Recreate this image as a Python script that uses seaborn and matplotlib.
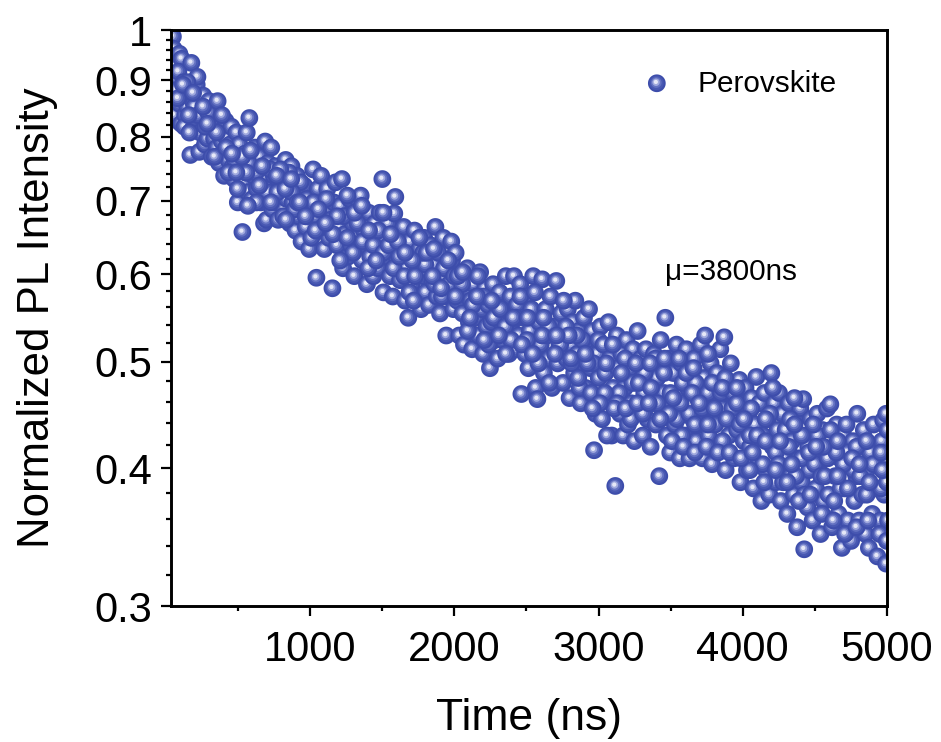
import numpy as np
import pandas as pd
import matplotlib
matplotlib.use("Agg")
import matplotlib.pyplot as plt
import seaborn as sns
from matplotlib.legend_handler import HandlerTuple
from matplotlib.lines import Line2D
from matplotlib.markers import MarkerStyle
from matplotlib.path import Path
from matplotlib.ticker import FixedLocator, FixedFormatter, NullFormatter

# values, in 1000 ns blocks
time_a = [40,45,50,55,60,70,75,85,90,100,
          42,48,58,68,78,88,98,108,115,125,
          120,130,140,150,161,168,175,185,195,205,
          210,223,230,240,250,262,270,280,290,300,
          310,318,325,335,345,352,360,370,380,390,
          395,405,412,425,435,445,455,465,472,480,
          490,500,510,522,530,540,552,560,570,580,
          590,600,610,622,632,640,650,660,672,680,
          690,700,710,722,730,740,752,760,770,780,
          790,800,812,822,830,842,850,862,870,880,
          890,900,910,920,932,940,950,962,970,985,
          75,140,190,265,330,410,470,545,615,695,
          110,155,215,285,345,425,490,565,640,715,
          765,805,845,885,925,965,785,825,865,905]
pl_a = [.99,.965,.93,.90,.87,.85,.83,.955,.89,.945,
        .88,.84,.91,.885,.92,.86,.825,.87,.90,.84,
        .82,.875,.855,.89,.773,.937,.815,.86,.835,.895,
        .91,.778,.81,.845,.875,.79,.83,.80,.865,.85,
        .77,.82,.80,.84,.785,.835,.76,.81,.795,.775,
        .74,.83,.80,.765,.79,.82,.755,.735,.78,.81,
        .70,.79,.76,.658,.73,.775,.81,.715,.835,.75,
        .705,.74,.785,.72,.755,.77,.70,.735,.67,.795,
        .675,.76,.72,.785,.69,.74,.755,.70,.675,.73,
        .72,.745,.69,.765,.705,.73,.67,.755,.70,.72,
        .66,.74,.68,.71,.645,.695,.725,.665,.705,.635,
        .87,.90,.855,.82,.77,.785,.765,.745,.745,.715,
        .895,.81,.84,.845,.81,.745,.72,.76,.725,.75,
        .715,.68,.745,.69,.73,.68,.75,.675,.715,.70]

time_b = [1000,1012,1025,1035,1045,1055,1068,1078,1090,1100,
          1110,1122,1135,1146,1155,1168,1178,1190,1200,1212,
          1220,1232,1242,1255,1265,1275,1288,1298,1310,1320,
          1330,1342,1352,1365,1375,1385,1398,1408,1420,1430,
          1440,1452,1462,1475,1492,1500,1510,1522,1532,1545,
          1555,1565,1575,1582,1595,1605,1615,1628,1640,1650,
          1660,1672,1682,1695,1705,1715,1728,1738,1750,1760,
          1770,1782,1792,1805,1815,1825,1838,1848,1860,1870,
          1880,1892,1902,1915,1925,1935,1948,1958,1970,1985,
          1015,1080,1150,1225,1290,1355,1430,1500,1570,1645,
          1030,1105,1180,1250,1320,1395,1465,1535,1610,1680,
          1720,1790,1855,1920,1990,1710,1775,1840,1905,1975]
pl_b = [.65,.75,.68,.598,.72,.66,.74,.70,.635,.69,
        .72,.65,.675,.585,.70,.73,.64,.665,.695,.735,
        .61,.655,.68,.625,.705,.64,.67,.60,.65,.705,
        .68,.71,.62,.66,.64,.59,.685,.625,.655,.60,
        .67,.64,.61,.685,.735,.58,.65,.625,.67,.60,
        .64,.575,.684,.708,.62,.655,.595,.63,.665,.57,
        .61,.55,.645,.59,.625,.66,.575,.61,.635,.56,
        .60,.65,.58,.62,.565,.64,.595,.615,.665,.575,
        .63,.555,.60,.65,.575,.53,.615,.59,.645,.56,
        .70,.665,.655,.68,.63,.645,.64,.63,.61,.60,
        .66,.705,.68,.65,.67,.61,.66,.64,.625,.58,
        .60,.615,.59,.61,.60,.57,.63,.60,.575,.62]

time_c = [2000,2012,2025,2035,2048,2058,2070,2082,2092,2105,
          2115,2125,2138,2148,2160,2170,2182,2192,2205,2215,
          2225,2238,2248,2260,2270,2282,2292,2305,2315,2325,
          2338,2348,2360,2370,2382,2392,2405,2415,2425,2438,
          2448,2456,2470,2482,2492,2505,2515,2525,2538,2548,
          2556,2567,2580,2590,2601,2612,2625,2635,2648,2658,
          2668,2682,2698,2708,2720,2732,2745,2755,2768,2778,
          2790,2800,2812,2822,2830,2845,2855,2868,2878,2890,
          2900,2912,2925,2935,2948,2960,2970,2982,2992,3005,
          2045,2120,2195,2265,2345,2420,2495,2575,2645,2725,
          2085,2155,2230,2310,2385,2460,2535,2610,2690,2765,
          2805,2880,2955,2015,2840,2915,2990,2785,2860,2940]
pl_c = [.63,.57,.53,.60,.555,.52,.585,.61,.545,.57,
        .515,.59,.55,.575,.53,.605,.56,.51,.585,.54,
        .565,.495,.545,.59,.525,.565,.505,.58,.545,.525,
        .56,.60,.53,.51,.575,.545,.60,.515,.565,.53,
        .59,.469,.55,.51,.575,.495,.535,.56,.60,.51,
        .475,.464,.545,.52,.596,.49,.56,.53,.505,.575,
        .475,.54,.594,.50,.52,.555,.48,.53,.505,.56,
        .465,.52,.545,.49,.57,.51,.535,.46,.50,.55,
        .475,.525,.56,.495,.535,.417,.45,.51,.485,.54,
        .59,.565,.575,.55,.54,.55,.525,.50,.54,.52,
        .535,.60,.52,.56,.525,.52,.51,.55,.51,.54,
        .50,.525,.50,.60,.53,.50,.525,.53,.475,.47]

time_d = [3015,3025,3038,3048,3060,3070,3082,3092,3107,3118,
          3128,3140,3150,3162,3172,3185,3195,3208,3218,3230,
          3240,3252,3262,3275,3285,3298,3308,3320,3330,3342,
          3352,3365,3375,3388,3398,3412,3422,3435,3445,3454,
          3465,3475,3488,3498,3510,3520,3532,3542,3555,3565,
          3578,3588,3600,3610,3622,3632,3645,3655,3668,3678,
          3690,3700,3712,3722,3730,3745,3755,3768,3778,3790,
          3800,3812,3825,3835,3848,3863,3872,3885,3895,3908,
          3918,3930,3940,3952,3967,3975,3988,3998,4010,4020,
          3045,3135,3225,3310,3400,3490,3575,3665,3750,3840,
          3090,3175,3270,3355,3445,3535,3620,3710,3795,3880,
          3925,3970,3035,3120,3215,3300,3385,3480,3560,3640,
          3510,3600,3690,3780,3870,3950,3570,3660,3750,3850]
pl_d = [.445,.52,.49,.465,.545,.505,.43,.475,.387,.53,
        .495,.45,.51,.43,.475,.525,.44,.495,.46,.515,
        .425,.48,.535,.455,.505,.43,.47,.515,.445,.49,
        .42,.46,.51,.44,.485,.395,.525,.45,.47,.55,
        .43,.505,.415,.46,.49,.44,.52,.47,.41,.50,
        .45,.43,.515,.475,.41,.49,.445,.505,.425,.465,
        .44,.52,.41,.485,.53,.455,.43,.50,.405,.47,
        .44,.49,.42,.515,.455,.528,.40,.47,.43,.50,
        .455,.41,.48,.435,.483,.39,.46,.425,.475,.40,
        .50,.47,.48,.49,.46,.47,.48,.48,.47,.47,
        .52,.505,.48,.475,.49,.445,.45,.455,.455,.445,
        .47,.44,.47,.46,.445,.45,.505,.45,.46,.47,
        .465,.49,.46,.48,.485,.46,.43,.44,.44,.425]

time_e = [4030,4042,4052,4065,4075,4085,4098,4108,4120,4130,
          4142,4152,4165,4175,4189,4198,4210,4220,4232,4242,
          4255,4265,4278,4288,4300,4310,4322,4332,4345,4355,
          4368,4378,4390,4400,4410,4417,4430,4440,4452,4462,
          4475,4485,4498,4508,4520,4530,4542,4552,4565,4575,
          4585,4598,4610,4620,4632,4642,4655,4665,4678,4688,
          4698,4710,4720,4732,4742,4755,4765,4778,4785,4798,
          4808,4820,4830,4842,4852,4865,4875,4888,4898,4910,
          4924,4935,4945,4955,4965,4972,4985,4992,4998,4985,
          4040,4130,4220,4310,4400,4490,4580,4670,4760,4850,
          4090,4180,4270,4360,4445,4535,4625,4715,4805,4895,
          4950,4990,4040,4150,4240,4330,4420,4510,4600,4690,
          4780,4870,4960,4995,4720,4640,4560,4480,4400,4320]
pl_e = [.45,.42,.465,.385,.44,.486,.405,.46,.375,.43,
        .47,.40,.445,.38,.49,.42,.46,.39,.435,.47,
        .375,.45,.41,.435,.365,.46,.395,.425,.38,.445,
        .355,.41,.455,.39,.464,.339,.43,.37,.40,.445,
        .36,.42,.385,.45,.405,.35,.435,.375,.41,.455,
        .38,.459,.355,.42,.395,.44,.365,.41,.34,.43,
        .385,.44,.36,.41,.345,.425,.375,.395,.45,.36,
        .42,.38,.435,.35,.40,.34,.415,.365,.44,.385,
        .334,.405,.36,.425,.444,.38,.329,.41,.36,.45,
        .43,.405,.415,.42,.41,.405,.41,.385,.40,.38,
        .43,.45,.39,.395,.42,.395,.375,.415,.395,.405,
        .385,.39,.40,.425,.405,.405,.38,.43,.435,.405,
        .42,.39,.40,.435,.385,.415,.395,.44,.43,.445]

# second pass over the band, filling what the first pass left open
time_f = [3100,3180,3260,3340,3420,3500,3580,3660,3740,3820,
          3900,3980,4060,4140,4220,4300,4380,4460,4540,4620,
          4700,4780,4860,4940,4990,4150,4250,4350,4450,4550,
          4650,4750,4850,4950,4050,4200,4350,4500,4650,4800,
          3150,3250,3350,3450,3550,3650,3750,3850,3950,4000,
          2100,2200,2300,2400,2500,2600,2700,2800,2900,3000,
          2150,2250,2350,2450,2550,2650,2750,2850,2950,3050,
          1100,1200,1300,1400,1500,1600,1700,1800,1900,2000,
          1050,1250,1350,1450,1550,1650,1750,1850,1950,2050,
          520,620,720,820,920,560,660,760,860,960,
          150,250,350,450,550,180,280,380,480,580]
pl_f = [.455,.455,.46,.46,.445,.425,.42,.415,.42,.415,
        .415,.41,.415,.39,.40,.39,.375,.38,.365,.36,
        .35,.355,.36,.35,.345,.445,.425,.44,.415,.42,
        .425,.41,.425,.415,.455,.475,.465,.42,.395,.405,
        .49,.50,.50,.505,.505,.495,.51,.475,.475,.445,
        .55,.525,.53,.55,.55,.53,.53,.505,.51,.46,
        .575,.57,.51,.575,.58,.48,.57,.485,.455,.43,
        .67,.62,.685,.66,.685,.645,.62,.63,.585,.575,
        .69,.71,.695,.62,.655,.63,.65,.635,.62,.605,
        .77,.70,.70,.72,.70,.695,.755,.74,.735,.68,
        .84,.855,.865,.775,.745,.88,.825,.84,.745,.78]

x_major = [1000, 2000, 3000, 4000, 5000]
x_minor = [500, 1500, 2500, 3500, 4500]
y_major = [0.3, 0.4, 0.5, 0.6, 0.7, 0.8, 0.9, 1.0]
y_labels = ["0.3", "0.4", "0.5", "0.6", "0.7", "0.8", "0.9", "1"]
y_minor = [0.32, 0.34, 0.36, 0.38, 0.42, 0.44, 0.46, 0.48, 0.52, 0.54, 0.56, 0.58,
           0.62, 0.64, 0.66, 0.68, 0.72, 0.74, 0.76, 0.78, 0.82, 0.84, 0.86, 0.88,
           0.92, 0.94, 0.96, 0.98]

sns.set_theme(style="ticks")
plt.rcParams["font.family"] = ["Liberation Sans", "DejaVu Sans"]

# sphere look: nested circles that shrink towards an off-centre highlight
theta = np.linspace(0, 2 * np.pi, 61)
ball = Path(np.column_stack([0.15 + np.cos(theta), -0.2 + np.sin(theta)]), closed=True)
shades = ["#3d4dab", "#4858b2", "#6472c2", "#a0a9de", "#e6e8f7"]
scales = [1.0, 0.8, 0.6, 0.42, 0.24]
base_size = 235

time_ns = np.concatenate([time_a, time_b, time_c, time_d, time_e, time_f])
pl = np.concatenate([pl_a, pl_b, pl_c, pl_d, pl_e, pl_f])

# every point gets its layers one after the other so balls cover each other properly
df = pd.DataFrame({
    "time": np.repeat(time_ns, len(shades)),
    "pl": np.repeat(pl, len(shades)),
    "layer": np.tile(np.arange(len(shades)), len(time_ns)),
})

fig = plt.figure(figsize=(9.41, 7.42), dpi=100)
ax = fig.add_axes([171 / 941, 1 - 606 / 742, 716 / 941, 576 / 742])

sns.scatterplot(data=df, x="time", y="pl", hue="layer", size="layer",
                palette=dict(enumerate(shades)),
                sizes={i: base_size * k ** 2 for i, k in enumerate(scales)},
                marker=MarkerStyle(ball), linewidth=0, edgecolor="none",
                legend=False, ax=ax, clip_on=True)

ax.set_yscale("log")
ax.set_xlim(36, 5000)
ax.set_ylim(0.3, 1)

ax.xaxis.set_major_locator(FixedLocator(x_major))
ax.xaxis.set_minor_locator(FixedLocator(x_minor))
ax.yaxis.set_major_locator(FixedLocator(y_major))
ax.yaxis.set_major_formatter(FixedFormatter(y_labels))
ax.yaxis.set_minor_locator(FixedLocator(y_minor))
ax.yaxis.set_minor_formatter(NullFormatter())

ax.tick_params(which="major", length=7.5, width=1.6, labelsize=30, color="black", labelcolor="black")
ax.tick_params(axis="x", which="major", pad=10)
ax.tick_params(axis="y", which="major", pad=6)
ax.tick_params(which="minor", length=3.8, width=1.6, color="black")
for side in ax.spines:
    ax.spines[side].set_linewidth(2.1)
    ax.spines[side].set_color("black")

ax.set_xlabel("Time (ns)", fontsize=32, color="black", labelpad=20)
ax.set_ylabel("Normalized PL Intensity", fontsize=31.5, color="black", labelpad=26.5)

handles = [tuple(Line2D([], [], linestyle="none", marker=MarkerStyle(ball), color=c,
                        markersize=np.sqrt(base_size) * k, markeredgewidth=0)
                 for c, k in zip(shades, scales))]
ax.legend(handles, ["Perovskite"], handler_map={tuple: HandlerTuple(ndivide=1, pad=0)},
          loc="center left", bbox_to_anchor=(0.608, 0.907), frameon=False,
          fontsize=21.4, labelcolor="black", handlelength=1.5, handletextpad=0.66)

ax.text(0.69, 0.58, "μ=3800ns", transform=ax.transAxes, fontsize=21.4,
        color="black", va="center", ha="left")

fig.savefig("out.png", dpi=100)
